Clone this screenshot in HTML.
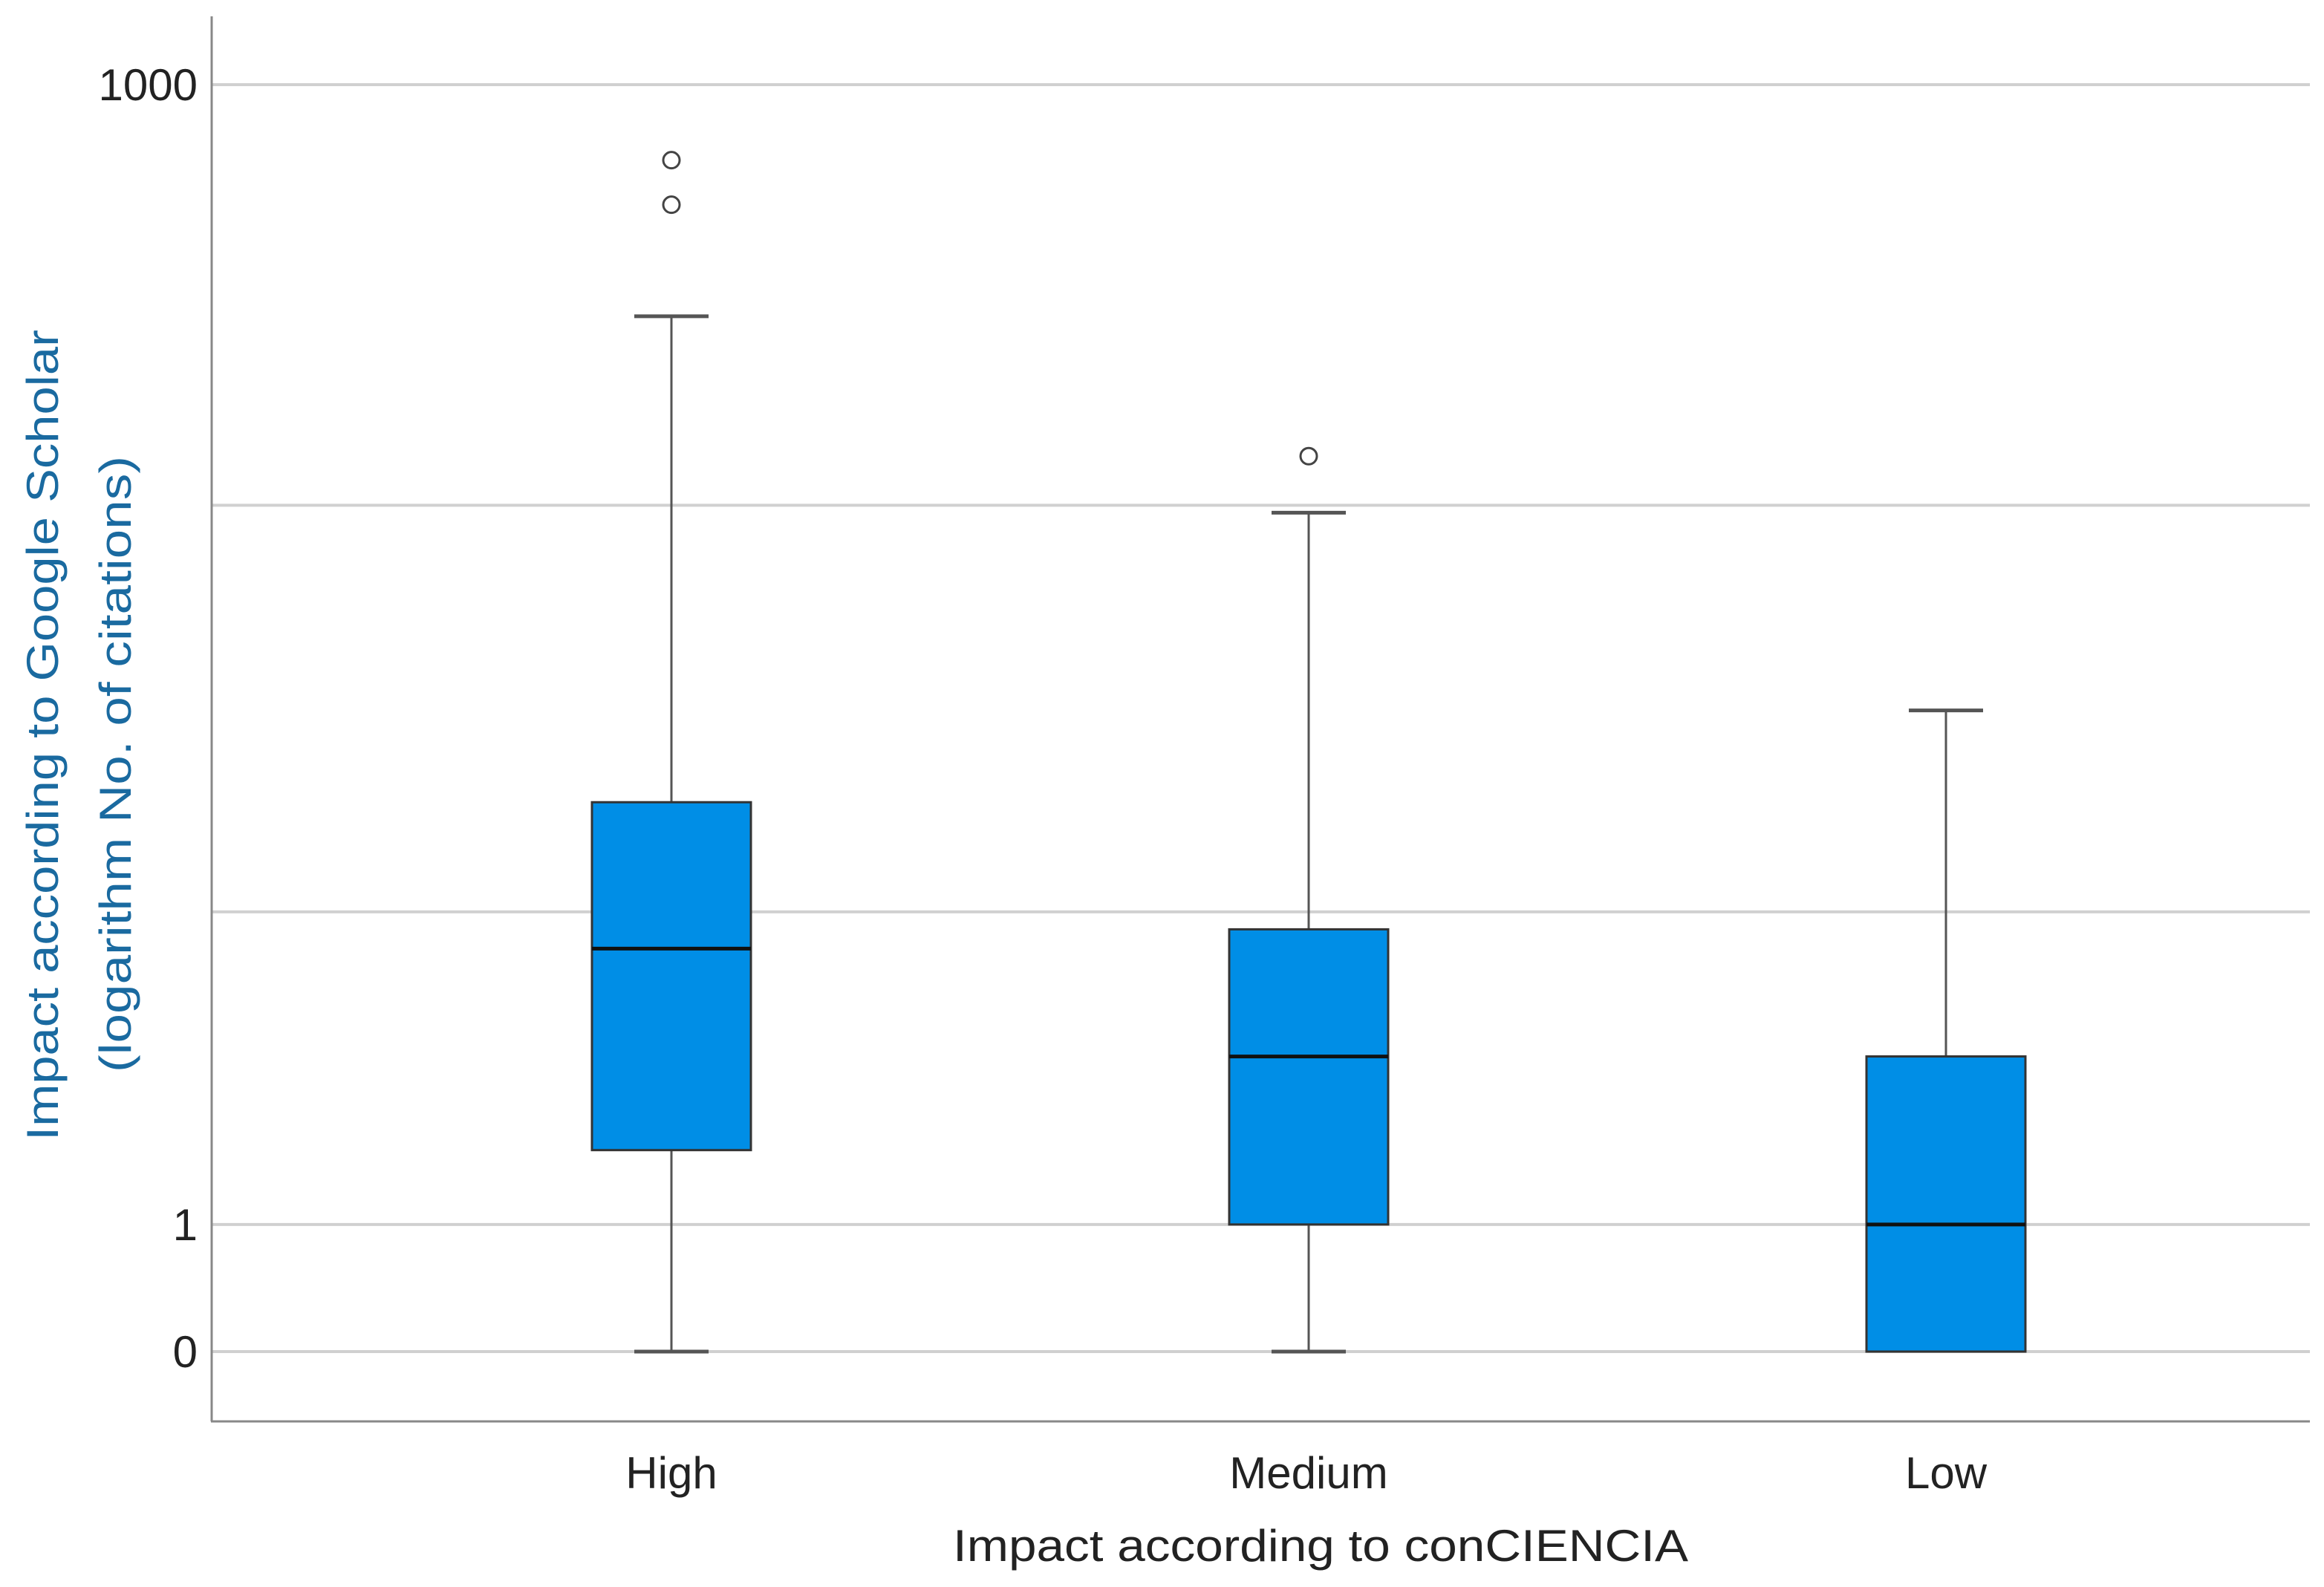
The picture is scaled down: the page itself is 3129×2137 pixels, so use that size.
<!DOCTYPE html>
<html><head><meta charset="utf-8"><style>
html,body{margin:0;padding:0;background:#fff;}
svg{display:block;}
text{font-family:"Liberation Sans",sans-serif;}
</style></head><body>
<svg id="chart" width="3129" height="2137" viewBox="0 0 3129 2137" xmlns="http://www.w3.org/2000/svg">
<g id="grid"></g>
<g id="boxes"></g>
<line x1="285" y1="22" x2="285" y2="1914" stroke="#888" stroke-width="3"/>
<line x1="284" y1="1914" x2="3110" y2="1914" stroke="#888" stroke-width="3"/>
<g id="yticks"></g>
<g id="xticks"></g>
<text x="1778" y="2102" text-anchor="middle" font-size="60" fill="#222" textLength="990" lengthAdjust="spacingAndGlyphs">Impact according to conCIENCIA</text>
<g fill="#1a6aa0" font-size="60">
<text transform="translate(78,990) rotate(-90)" text-anchor="middle" textLength="1092" lengthAdjust="spacingAndGlyphs">Impact according to Google Scholar</text>
<text transform="translate(176,1029) rotate(-90)" text-anchor="middle" textLength="830" lengthAdjust="spacingAndGlyphs">(logarithm No. of citations)</text>
</g>
</svg>
<script>
const categories = ["High","Medium","Low"];
const whiskerLow = [0,0,0];
const q1 = [2,1,0];
const median = [8,4,1];
const q3 = [19,9,4];
const whiskerHigh = [282,96,32];
const outliers = [[662,519],[131],[]];
const gridValues = [0,1,10,100,1000];
const tickLabels = ["0","1","1000"];
const tickValues = [0,1,1000];

const NS="http://www.w3.org/2000/svg";
function y(v){return 1820 - Math.log10(v+1)*568.6;}
function x(i){return 904 + i*858;}
function mk(tag,attrs,parent){const e=document.createElementNS(NS,tag);for(const k in attrs)e.setAttribute(k,attrs[k]);parent.appendChild(e);return e;}
const grid=document.getElementById('grid'),boxes=document.getElementById('boxes'),yt=document.getElementById('yticks'),xt=document.getElementById('xticks');
gridValues.forEach(v=>{
  const l=mk('line',{x1:285,x2:3110,y1:y(v),y2:y(v),stroke:'#d0d0d0','stroke-width':4},grid);
  
  
});
tickValues.forEach((v,i)=>{
  const t=mk('text',{x:266,y:y(v)+21,'text-anchor':'end','font-size':60,fill:'#222'},yt);
  t.textContent=tickLabels[i];
  
  
});
categories.forEach((c,i)=>{
  const cx=x(i);
  const t=mk('text',{x:cx,y:2004,'text-anchor':'middle','font-size':60,fill:'#222'},xt);
  t.textContent=c;
  
  
  const g=mk('g',{},boxes);
  
  
  const w1=mk('line',{x1:cx,x2:cx,y1:y(q3[i]),y2:y(whiskerHigh[i]),stroke:'#555','stroke-width':3},g);
  
  
  const c1=mk('line',{x1:cx-50,x2:cx+50,y1:y(whiskerHigh[i]),y2:y(whiskerHigh[i]),stroke:'#555','stroke-width':5},g);
  
  
  if(q1[i]>whiskerLow[i]){
    const w2=mk('line',{x1:cx,x2:cx,y1:y(whiskerLow[i]),y2:y(q1[i]),stroke:'#555','stroke-width':3},g);
    
    
    const c2=mk('line',{x1:cx-50,x2:cx+50,y1:y(whiskerLow[i]),y2:y(whiskerLow[i]),stroke:'#555','stroke-width':5},g);
    
    
  }
  const r=mk('rect',{x:cx-107,width:214,y:y(q3[i]),height:y(q1[i])-y(q3[i]),fill:'#008ee6',stroke:'#333','stroke-width':3},g);
  
  
  const m=mk('line',{x1:cx-107,x2:cx+107,y1:y(median[i]),y2:y(median[i]),stroke:'#111','stroke-width':5},g);
  
  
  outliers[i].forEach(v=>{
    const o=mk('circle',{cx:cx,cy:y(v),r:11,fill:'#fff',stroke:'#444','stroke-width':3},g);
    
    
  });
});
</script>
</body></html>
